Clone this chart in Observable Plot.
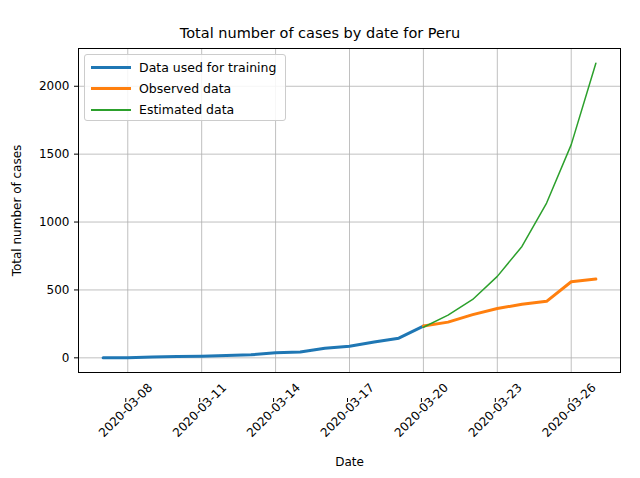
<!DOCTYPE html>
<html><head><meta charset="utf-8">
<script src="https://cdn.jsdelivr.net/npm/d3@7"></script>
<script src="https://cdn.jsdelivr.net/npm/@observablehq/plot@0.6"></script>
<style>
body{margin:0;background:#fff;font-family:"DejaVu Sans",sans-serif;}
#wrap{position:relative;width:640px;height:478px;}
#title{height:40px;line-height:22px;padding-top:22px;box-sizing:border-box;text-align:center;font-size:14.5px;}
#legend{position:absolute;left:84px;top:54px;width:202px;height:67px;border:1px solid #ccc;border-radius:3px;background:rgba(255,255,255,0.85);font-size:12.5px;box-sizing:border-box;padding:2px 0 0 6px;}
.li{display:flex;align-items:center;height:21px;}
.sw{width:40px;margin-right:8px;}
</style></head><body>
<div id="wrap"><div id="title">Total number of cases by date for Peru</div><div id="chart"></div>
<div id="legend">
<div class="li"><div class="sw" style="border-top:3px solid #1f77b4"></div>Data used for training</div>
<div class="li"><div class="sw" style="border-top:3px solid #ff7f0e"></div>Observed data</div>
<div class="li"><div class="sw" style="height:2px;background:#2ca02c"></div>Estimated data</div>
</div></div>
<script>
const trainDates=["2020-03-07","2020-03-08","2020-03-09","2020-03-10","2020-03-11","2020-03-12","2020-03-13","2020-03-14","2020-03-15","2020-03-16","2020-03-17","2020-03-18","2020-03-19","2020-03-20"];
const trainValues=[1,1,7,9,11,17,22,38,43,71,86,117,145,234];
const obsDates=["2020-03-20","2020-03-21","2020-03-22","2020-03-23","2020-03-24","2020-03-25","2020-03-26","2020-03-27"];
const obsValues=[234,263,318,363,395,416,560,580];
const estValues=[225,315,430,600,820,1140,1570,2170];
const tickDates=["2020-03-08","2020-03-11","2020-03-14","2020-03-17","2020-03-20","2020-03-23","2020-03-26"];
const yTicks=[0,500,1000,1500,2000];
const P=d3.utcParse("%Y-%m-%d");
const train=trainDates.map((d,i)=>({x:P(d),y:trainValues[i]}));
const obs=obsDates.map((d,i)=>({x:P(d),y:obsValues[i]}));
const est=obsDates.map((d,i)=>({x:P(d),y:estValues[i]}));
const chart=Plot.plot({
 width:640,height:438,marginTop:8,marginBottom:106,marginLeft:78,marginRight:20,
 style:{fontFamily:"DejaVu Sans",fontSize:"12px",color:"#000"},
 x:{type:"utc",domain:[P("2020-03-06"),P("2020-03-28")]},
 y:{domain:[-108,2278]},
 marks:[
  Plot.gridX(tickDates.map(P),{stroke:"#b0b0b0",strokeOpacity:1,strokeWidth:0.8}),
  Plot.gridY(yTicks,{stroke:"#b0b0b0",strokeOpacity:1,strokeWidth:0.8}),
  Plot.axisX(tickDates.map(P),{tickSize:4,tickFormat:d3.utcFormat("%Y-%m-%d"),tickRotate:-45,textAnchor:"middle",dy:26,dx:-2,label:"Date",labelAnchor:"center",labelArrow:"none",labelOffset:93,fontSize:12}),
  Plot.axisY(yTicks,{tickSize:4,tickFormat:d=>String(d),label:"Total number of cases",labelAnchor:"center",labelArrow:"none",labelOffset:66,fontSize:12}),
  Plot.frame({stroke:"#000"}),
  Plot.line(train,{x:"x",y:"y",stroke:"#1f77b4",strokeWidth:3}),
  Plot.line(obs,{x:"x",y:"y",stroke:"#ff7f0e",strokeWidth:3}),
  Plot.line(est,{x:"x",y:"y",stroke:"#2ca02c",strokeWidth:1.5})
 ]});
document.getElementById("chart").appendChild(chart);
</script></body></html>
